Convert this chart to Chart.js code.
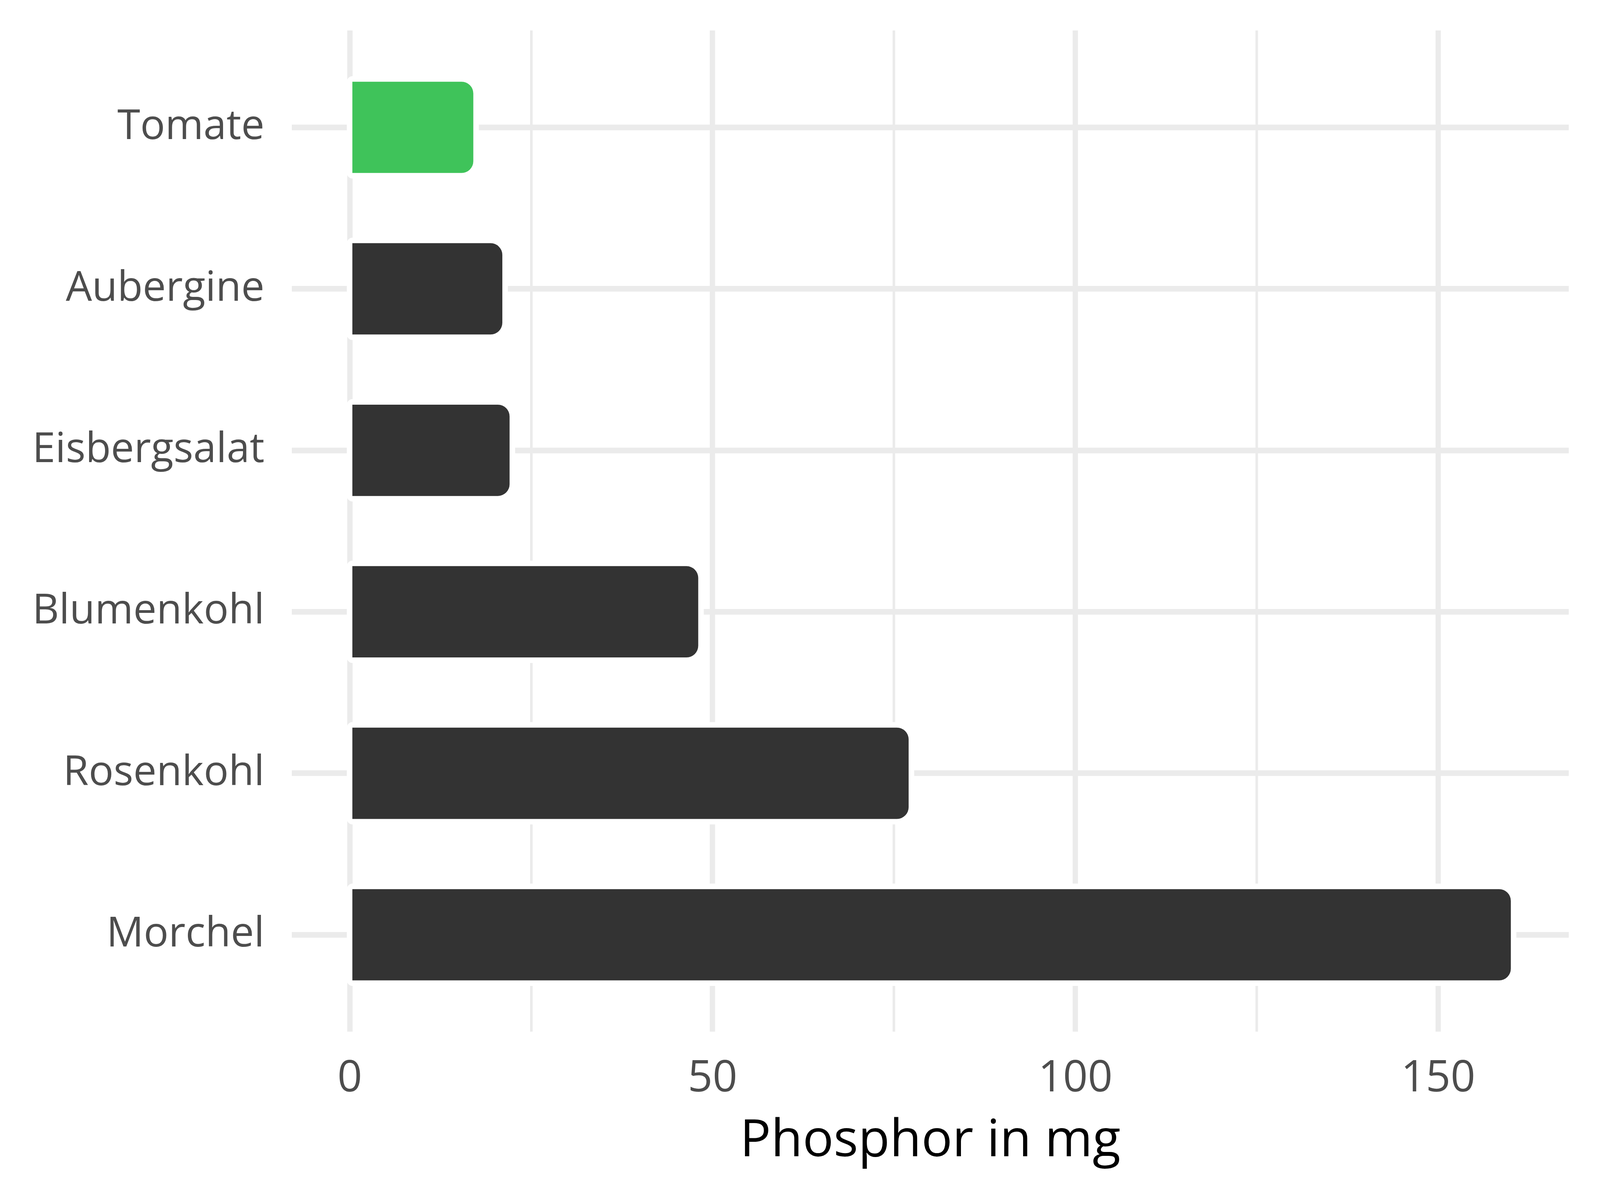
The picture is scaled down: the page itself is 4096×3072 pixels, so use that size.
<!DOCTYPE html>
<html>
<head>
<meta charset="utf-8">
<script src="https://cdn.jsdelivr.net/npm/chart.js@4/dist/chart.umd.min.js"></script>
<style>
  html, body { margin: 0; padding: 0; background: #fff; }
  canvas { display: block; }
</style>
</head>
<body>
<canvas id="chart" width="4096" height="3072"></canvas>
<script>
// data
var categories = ['Tomate', 'Aubergine', 'Eisbergsalat', 'Blumenkohl', 'Rosenkohl', 'Morchel'];
var phosphor = [17, 21, 22, 48, 77, 160];
var barColors = ['#3FC35A', '#333333', '#333333', '#333333', '#333333', '#333333'];
var xTicks = [0, 25, 50, 75, 100, 125, 150];
var xLabelTicks = [0, 50, 100, 150];

var FONT = "'Open Sans', 'Noto Sans', sans-serif";
var HALO = 14.5;
var RADIUS = 30;

// white outline around each bar, drawn over the grid but under the bars
var haloPlugin = {
  id: 'halo',
  beforeDatasetsDraw: function(chart){
    var ctx = chart.ctx;
    var meta = chart.getDatasetMeta(0);
    ctx.save();
    ctx.fillStyle = '#ffffff';
    meta.data.forEach(function(bar){
      var p = bar.getProps(['x', 'y', 'base', 'height'], true);
      var left = Math.min(p.base, p.x) - HALO;
      var right = Math.max(p.base, p.x) + HALO;
      var top = p.y - p.height / 2 - HALO;
      var h = p.height + 2 * HALO;
      ctx.beginPath();
      ctx.roundRect(left, top, right - left, h, [HALO, RADIUS + HALO, RADIUS + HALO, HALO]);
      ctx.fill();
    });
    ctx.restore();
  }
};

var ctx = document.getElementById('chart');
var myChart = new Chart(ctx, {
  type: 'bar',
  data: {
    datasets: [{
      data: categories.map(function(c, i){ return { x: phosphor[i], y: i }; }),
      backgroundColor: barColors,
      borderWidth: 0,
      borderRadius: RADIUS,
      borderSkipped: 'start',
      barThickness: 233
    }]
  },
  plugins: [haloPlugin],
  options: {
    indexAxis: 'y',
    responsive: false,
    animation: false,
    devicePixelRatio: 1,
    layout: { padding: { left: 0, right: 80, top: 78, bottom: 0 } },
    plugins: {
      legend: { display: false },
      tooltip: { enabled: false }
    },
    scales: {
      x: {
        type: 'linear',
        min: -8,
        max: 168,
        afterBuildTicks: function(axis){
          axis.ticks = xTicks.map(function(v){ return { value: v }; });
        },
        afterFit: function(axis){ axis.height = 431; },
        border: { display: false },
        grid: {
          color: '#EBEBEB',
          lineWidth: function(c){
            return c.tick && xLabelTicks.indexOf(c.tick.value) >= 0 ? 13.6 : 6.6;
          },
          drawTicks: false
        },
        ticks: {
          autoSkip: false,
          maxRotation: 0,
          padding: 55,
          color: '#4D4D4D',
          font: { family: FONT, size: 111 },
          callback: function(v){ return xLabelTicks.indexOf(v) >= 0 ? String(v) : ''; }
        },
        title: {
          display: true,
          text: 'Phosphor in mg',
          color: '#000000',
          font: { family: FONT, size: 132 },
          padding: { top: 0, bottom: 70 }
        }
      },
      y: {
        type: 'linear',
        reverse: true,
        offset: false,
        min: -0.6,
        max: 5.6,
        afterBuildTicks: function(axis){
          axis.ticks = categories.map(function(c, i){ return { value: i }; });
        },
        afterFit: function(axis){
          axis.width = 747;
          axis.paddingTop = 0;
          axis.paddingBottom = 0;
        },
        border: { display: false },
        grid: {
          offset: false,
          color: '#EBEBEB',
          lineWidth: 14.5,
          drawTicks: false
        },
        ticks: {
          autoSkip: false,
          padding: 70,
          color: '#4D4D4D',
          font: { family: FONT, size: 106 },
          callback: function(v){ return categories[v]; }
        }
      }
    }
  }
});
</script>
</body>
</html>
